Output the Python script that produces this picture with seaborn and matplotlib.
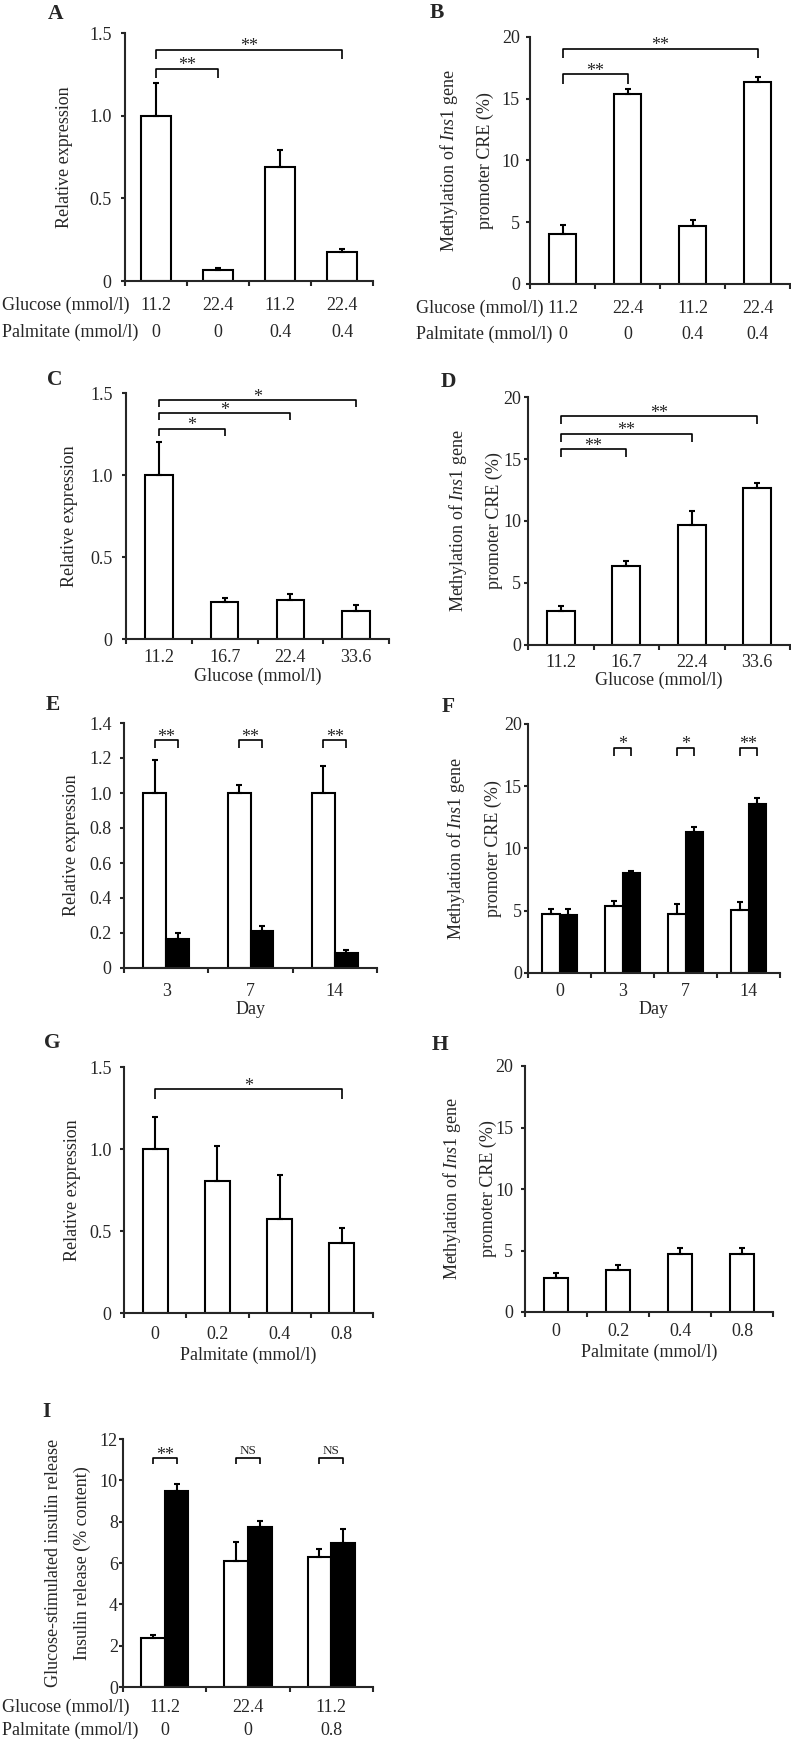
import numpy as np
import pandas as pd
import matplotlib
matplotlib.use("Agg")
import matplotlib.pyplot as plt
import seaborn as sns

# ---------------- data ----------------
A_glucose = ["11.2", "22.4", "11.2", "22.4"]
A_palmitate = ["0", "0", "0.4", "0.4"]
A_mean = [1.0, 0.067, 0.69, 0.176]
A_sem = [0.197, 0.010, 0.10, 0.020]
A_yticks = [0, 0.5, 1.0, 1.5]
A_yticklabels = ["0", "0.5", "1.0", "1.5"]
A_brackets = [(0, 1, 1.284, "**"), (0, 3, 1.399, "**")]

B_mean = [4.05, 15.35, 4.7, 16.35]
B_sem = [0.72, 0.42, 0.47, 0.42]
B_yticks = [0, 5, 10, 15, 20]
B_yticklabels = ["0", "5", "10", "15", "20"]
B_brackets = [(0, 1, 16.98, "**"), (0, 3, 19.06, "**")]

CD_glucose = ["11.2", "16.7", "22.4", "33.6"]
C_mean = [1.0, 0.225, 0.237, 0.172]
C_sem = [0.2, 0.024, 0.037, 0.035]
C_brackets = [(0, 1, 1.283, "*"), (0, 2, 1.378, "*"), (0, 3, 1.455, "*")]
D_mean = [2.75, 6.4, 9.7, 12.7]
D_sem = [0.42, 0.4, 1.08, 0.4]
D_brackets = [(0, 1, 15.8, "**"), (0, 2, 17.04, "**"), (0, 3, 18.44, "**")]

E_days = ["3", "7", "14"]
E_white = [1.0, 1.0, 1.0]
E_white_sem = [0.187, 0.047, 0.153]
E_black = [0.165, 0.209, 0.085]
E_black_sem = [0.035, 0.030, 0.018]
E_yticks = [0, 0.2, 0.4, 0.6, 0.8, 1.0, 1.2, 1.4]
E_yticklabels = ["0", "0.2", "0.4", "0.6", "0.8", "1.0", "1.2", "1.4"]
E_brackets = [(0, 1.301, "**"), (1, 1.301, "**"), (2, 1.301, "**")]

F_days = ["0", "3", "7", "14"]
F_white = [4.72, 5.37, 4.72, 5.05]
F_white_sem = [0.41, 0.43, 0.84, 0.69]
F_black = [4.64, 8.0, 11.3, 13.6]
F_black_sem = [0.49, 0.19, 0.46, 0.49]
F_brackets = [(1, 18.1, "*"), (2, 18.1, "*"), (3, 18.1, "**")]

GH_palmitate = ["0", "0.2", "0.4", "0.8"]
G_mean = [1.0, 0.804, 0.573, 0.429]
G_sem = [0.198, 0.216, 0.27, 0.091]
G_brackets = [(0, 3, 1.365, "*")]
H_mean = [2.73, 3.4, 4.7, 4.7]
H_sem = [0.41, 0.41, 0.49, 0.49]

I_glucose = ["11.2", "22.4", "11.2"]
I_palmitate = ["0", "0", "0.8"]
I_white = [2.35, 6.11, 6.29]
I_white_sem = [0.17, 0.89, 0.40]
I_black = [9.5, 7.74, 6.98]
I_black_sem = [0.30, 0.28, 0.65]
I_yticks = [0, 2, 4, 6, 8, 10, 12]
I_yticklabels = ["0", "2", "4", "6", "8", "10", "12"]
I_brackets = [(0, 11.08, "**"), (1, 11.08, "NS"), (2, 11.08, "NS")]

REL = "Relative expression"
METH = "Methylation of $\\mathit{Ins1}$ gene\npromoter CRE (%)"
GSIS = "Glucose-stimulated insulin release\nInsulin release (% content)"

# ---------------- style ----------------
sns.set_style("ticks")
plt.rcParams["font.family"] = ["Liberation Serif", "DejaVu Serif"]
plt.rcParams["mathtext.fontset"] = "custom"
plt.rcParams["mathtext.rm"] = "Liberation Serif"
plt.rcParams["mathtext.it"] = "Liberation Serif:italic"
plt.rcParams["axes.linewidth"] = 1.5

W, H = 791, 1739
fig = plt.figure(figsize=(W / 100, H / 100), dpi=100)
FS = 13
PX = 100 / 72.0  # px per pt


def make_ax(l, t, r, b):
    return fig.add_axes([l / W, 1 - b / H, (r - l) / W, (b - t) / H])


def draw_bars(ax, keys, series, sems, colors, width):
    rows = []
    for gi, (vals, errs) in enumerate(zip(series, sems)):
        for k, v, e in zip(keys, vals, errs):
            rows.append(dict(cond=k, group=f"g{gi}", value=v, sem=e))
    df = pd.DataFrame(rows)
    groups = [f"g{i}" for i in range(len(series))]
    sns.barplot(data=df, x="cond", y="value", hue="group", order=keys,
                hue_order=groups, palette=colors, width=width,
                edgecolor="black", linewidth=1.5, saturation=1,
                errorbar=None, legend=False, dodge=True, ax=ax)
    bars = list(ax.patches)
    xs = np.array([p.get_x() + p.get_width() / 2 for p in bars])
    hs = np.array([p.get_height() for p in bars])
    ax.errorbar(xs, hs, yerr=[np.zeros(len(bars)), df["sem"].values],
                fmt="none", ecolor="black", elinewidth=1.5, capsize=2,
                capthick=1.5, zorder=1)
    return xs.reshape(len(series), len(keys))


def style(ax, n, ymax, yticks, yticklabels, xticklabels, xpad_px, ypad):
    ax.set_xlim(-0.5, n - 0.5)
    ax.set_ylim(0, ymax)
    ax.set_yticks(yticks)
    ax.set_yticklabels(yticklabels)
    ax.set_xticks(range(n))
    ax.set_xticklabels(xticklabels)
    ax.set_xticks(np.arange(n + 1) - 0.5, minor=True)
    ax.tick_params(axis="x", which="major", length=0, pad=xpad_px / PX,
                   labelsize=FS)
    ax.tick_params(axis="x", which="minor", length=3.5, width=1.5,
                   direction="out")
    ax.tick_params(axis="y", which="major", length=3, width=1.5,
                   direction="out", pad=ypad, labelsize=FS)
    for lbl in ax.get_xticklabels():
        lbl.set_va("baseline")
    for s in ["top", "right"]:
        ax.spines[s].set_visible(False)
    for s in ["left", "bottom"]:
        ax.spines[s].set_linewidth(1.5)
    ax.set_xlabel("")
    ax.set_ylabel("")


def ylabel(ax, text, xfrac, ls=1.2):
    ax.set_ylabel(text, fontsize=FS, linespacing=ls)
    ax.yaxis.label.set_va("center")
    ax.yaxis.set_label_coords(xfrac, 0.5)


def xlabel(ax, text, base_px):
    ax.set_xlabel(text, fontsize=FS)
    ax.xaxis.label.set_va("baseline")
    ax.xaxis.set_label_coords(0.5, -base_px / ax.bbox.height)


def bracket(ax, x1, x2, h, leg_px, label):
    ymax = ax.get_ylim()[1]
    leg = ymax * leg_px / ax.bbox.height
    ax.plot([x1, x1, x2, x2], [h - leg, h, h, h - leg], color="black",
            lw=1.2, clip_on=False, solid_capstyle="butt")
    if label == "NS":
        ax.annotate(label, xy=((x1 + x2) / 2, h), xytext=(0, 2.8),
                    textcoords="offset points", ha="center", va="baseline",
                    fontsize=9.5)
    else:
        ax.annotate(label, xy=((x1 + x2) / 2, h), xytext=(0, -1.2),
                    textcoords="offset points", ha="center", va="baseline",
                    fontsize=FS)


def row_labels(ax, xfrac, b1_px, b2_px, second_row):
    ax.annotate("Glucose (mmol/l)", xy=(xfrac, 0), xycoords="axes fraction",
                xytext=(0, -b1_px / PX), textcoords="offset points",
                ha="left", va="baseline", fontsize=FS)
    ax.annotate("Palmitate (mmol/l)", xy=(xfrac, 0), xycoords="axes fraction",
                xytext=(0, -b2_px / PX), textcoords="offset points",
                ha="left", va="baseline", fontsize=FS)
    for i, t in enumerate(second_row):
        ax.annotate(t, xy=(i, 0), xycoords=("data", "axes fraction"),
                    xytext=(0, -b2_px / PX), textcoords="offset points",
                    ha="center", va="baseline", fontsize=FS)


def letter(ch, x, y):
    fig.text(x / W, 1 - y / H, ch, fontsize=15.5, fontweight="bold",
             ha="center", va="baseline")


WHITE = ["white"]
WB = ["white", "black"]
LS_METH = 2.3
LS_GSIS = 1.85

# ---------- A ----------
ax = make_ax(125, 33, 373, 281)
keys = [f"{g}|{p}" for g, p in zip(A_glucose, A_palmitate)]
c = draw_bars(ax, keys, [A_mean], [A_sem], WHITE, 0.48)
style(ax, 4, 1.5, A_yticks, A_yticklabels, A_glucose, 28.8, 6.7)
ylabel(ax, REL, -0.242)
row_labels(ax, (2 - 125) / 248, 28.8, 55.9, A_palmitate)
for i, j, h, s in A_brackets:
    bracket(ax, c[0][i], c[0][j], h, 9, s)
letter("A", 56, 19.3)

# ---------- B ----------
ax = make_ax(530, 37, 790, 284)
c = draw_bars(ax, keys, [B_mean], [B_sem], WHITE, 0.41)
style(ax, 4, 20, B_yticks, B_yticklabels, A_glucose, 28.8, 4.3)
ylabel(ax, METH, -0.246, LS_METH)
row_labels(ax, (416 - 530) / 260, 28.8, 54.6, A_palmitate)
for i, j, h, s in B_brackets:
    bracket(ax, c[0][i], c[0][j], h, 9.5, s)
letter("B", 437, 18.3)

# ---------- C ----------
ax = make_ax(126, 393, 389, 639)
c = draw_bars(ax, CD_glucose, [C_mean], [C_sem], WHITE, 0.42)
style(ax, 4, 1.5, A_yticks, A_yticklabels, CD_glucose, 23.5, 6.7)
ylabel(ax, REL, -0.213)
xlabel(ax, "Glucose (mmol/l)", 42)
for i, j, h, s in C_brackets:
    bracket(ax, c[0][i], c[0][j], h, 7, s)
letter("C", 55, 385)

# ---------- D ----------
ax = make_ax(528, 397, 790, 645)
c = draw_bars(ax, CD_glucose, [D_mean], [D_sem], WHITE, 0.43)
style(ax, 4, 20, B_yticks, B_yticklabels, CD_glucose, 21.8, 1.9)
ylabel(ax, METH, -0.202, LS_METH)
xlabel(ax, "Glucose (mmol/l)", 40)
for i, j, h, s in D_brackets:
    bracket(ax, c[0][i], c[0][j], h, 8, s)
letter("D", 448, 386.7)

# ---------- E ----------
ax = make_ax(124, 723, 377, 968)
c = draw_bars(ax, E_days, [E_white, E_black], [E_white_sem, E_black_sem],
              WB, 0.54)
style(ax, 3, 1.4, E_yticks, E_yticklabels, E_days, 27.8, 6.0)
ylabel(ax, REL, -0.209)
xlabel(ax, "Day", 45.7)
for k, h, s in E_brackets:
    bracket(ax, c[0][k], c[1][k], h, 7.5, s)
letter("E", 53, 710)

# ---------- F ----------
ax = make_ax(528, 724, 780, 973)
c = draw_bars(ax, F_days, [F_white, F_black], [F_white_sem, F_black_sem],
              WB, 0.57)
style(ax, 4, 20, B_yticks, B_yticklabels, F_days, 23.4, 1.4)
ylabel(ax, METH, -0.217, LS_METH)
xlabel(ax, "Day", 41.3)
for k, h, s in F_brackets:
    bracket(ax, c[0][k], c[1][k], h, 8.3, s)
letter("F", 448, 711.7)

# ---------- G ----------
ax = make_ax(124, 1067, 373, 1313)
c = draw_bars(ax, GH_palmitate, [G_mean], [G_sem], WHITE, 0.40)
style(ax, 4, 1.5, A_yticks, A_yticklabels, GH_palmitate, 26.1, 6.0)
ylabel(ax, REL, -0.205)
xlabel(ax, "Palmitate (mmol/l)", 46.6)
for i, j, h, s in G_brackets:
    bracket(ax, c[0][i], c[0][j], h, 10, s)
letter("G", 52, 1048.3)

# ---------- H ----------
ax = make_ax(525, 1066, 773, 1312)
c = draw_bars(ax, GH_palmitate, [H_mean], [H_sem], WHITE, 0.40)
style(ax, 4, 20, B_yticks, B_yticklabels, GH_palmitate, 24.1, 5.5)
ylabel(ax, METH, -0.226, LS_METH)
xlabel(ax, "Palmitate (mmol/l)", 44.6)
letter("H", 440, 1050)

# ---------- I ----------
ax = make_ax(123, 1439, 373, 1687)
keysI = [f"{g}|{p}" for g, p in zip(I_glucose, I_palmitate)]
c = draw_bars(ax, keysI, [I_white, I_black], [I_white_sem, I_black_sem],
              WB, 0.57)
style(ax, 3, 12, I_yticks, I_yticklabels, I_glucose, 25.1, 0.7)
ylabel(ax, GSIS, -0.22, LS_GSIS)
row_labels(ax, (2 - 123) / 250, 25.1, 48.1, I_palmitate)
for k, h, s in I_brackets:
    bracket(ax, c[0][k], c[1][k], h, 6, s)
letter("I", 46, 1417.3)

fig.savefig("out.png", dpi=100)
